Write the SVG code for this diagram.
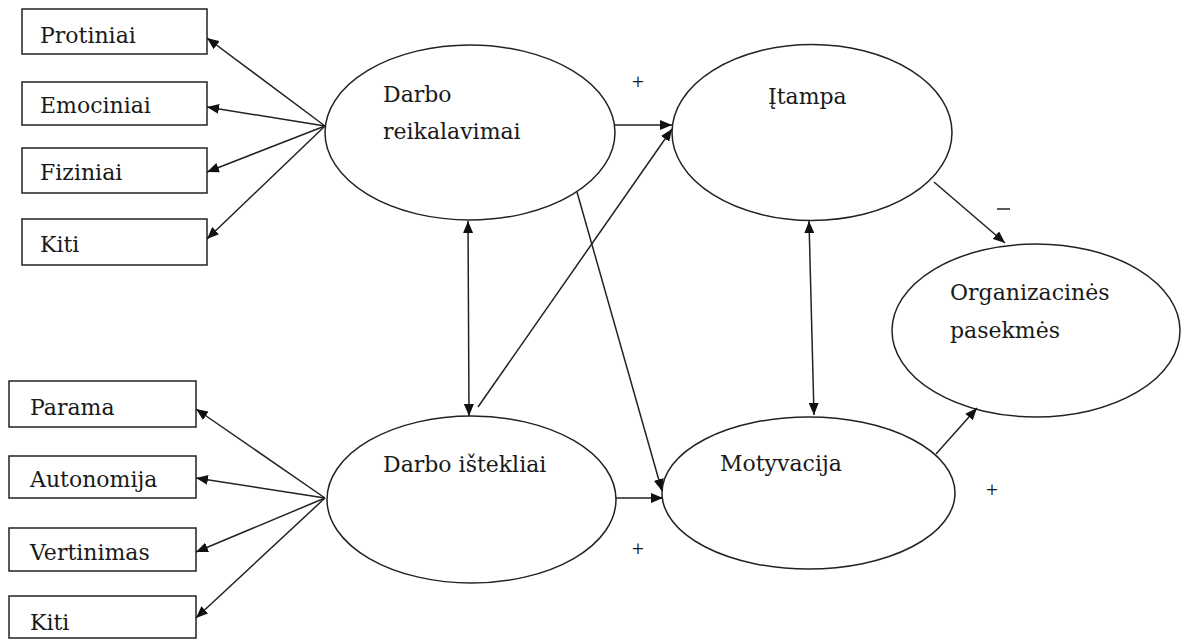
<svg xmlns="http://www.w3.org/2000/svg" width="1184" height="640" viewBox="0 0 1184 640">
<defs>
<style>
.box{fill:#fff;stroke:#222;stroke-width:1.5}
.ell{fill:#fff;stroke:#222;stroke-width:1.5}
.t{font-family:"DejaVu Serif","Liberation Serif",serif;font-size:22px;fill:#1a1a1a}
.s{font-family:"DejaVu Serif","Liberation Serif",serif;font-size:16px;fill:#1a1a1a}
.c{stroke:#222;stroke-width:1.5;fill:none}
</style>
<marker id="ah" viewBox="0 0 12 10" refX="12" refY="5" markerWidth="12" markerHeight="10" markerUnits="userSpaceOnUse" orient="auto-start-reverse">
<path d="M0,0 L12,5 L0,10 z" fill="#111"/>
</marker>
</defs>
<rect width="1184" height="640" fill="#fff"/>

<g id="protiniai"><rect class="box" x="22" y="9" width="185" height="45"/><text class="t" x="40" y="43">Protiniai</text></g>
<g id="emociniai"><rect class="box" x="22" y="82" width="185" height="43"/><text class="t" x="40" y="113">Emociniai</text></g>
<g id="fiziniai"><rect class="box" x="22" y="148" width="185" height="45"/><text class="t" x="40" y="180">Fiziniai</text></g>
<g id="kiti1"><rect class="box" x="22" y="219" width="185" height="46"/><text class="t" x="40" y="252">Kiti</text></g>

<g id="parama"><rect class="box" x="9" y="381" width="187" height="46"/><text class="t" x="30" y="415">Parama</text></g>
<g id="autonomija"><rect class="box" x="9" y="456" width="187" height="42"/><text class="t" x="30" y="487">Autonomija</text></g>
<g id="vertinimas"><rect class="box" x="9" y="528" width="187" height="43"/><text class="t" x="30" y="560">Vertinimas</text></g>
<g id="kiti2"><rect class="box" x="9" y="596" width="187" height="42"/><text class="t" x="30" y="630">Kiti</text></g>

<g id="darbo-reikalavimai"><ellipse class="ell" cx="470" cy="132.5" rx="145" ry="87.5"/><text class="t" x="383" y="102">Darbo</text><text class="t" x="383" y="139">reikalavimai</text></g>
<g id="darbo-istekliai"><ellipse class="ell" cx="471.5" cy="499.5" rx="144.5" ry="83.5"/><text class="t" x="383" y="472">Darbo ištekliai</text></g>
<g id="itampa"><ellipse class="ell" cx="812" cy="132.5" rx="140" ry="88"/><text class="t" x="768" y="104">Įtampa</text></g>
<g id="motyvacija"><ellipse class="ell" cx="808.5" cy="493" rx="146.5" ry="76"/><text class="t" x="720" y="471">Motyvacija</text></g>
<g id="organizacines"><ellipse class="ell" cx="1036" cy="330.5" rx="144" ry="86.5"/><text class="t" x="950" y="300">Organizacinės</text><text class="t" x="950" y="338">pasekmės</text></g>

<g id="connectors">
<line class="c" x1="325" y1="126" x2="207" y2="38" marker-end="url(#ah)"/>
<line class="c" x1="325" y1="126" x2="207" y2="107" marker-end="url(#ah)"/>
<line class="c" x1="325" y1="126" x2="207" y2="172" marker-end="url(#ah)"/>
<line class="c" x1="325" y1="126" x2="207" y2="239" marker-end="url(#ah)"/>

<line class="c" x1="325" y1="498" x2="196" y2="409" marker-end="url(#ah)"/>
<line class="c" x1="325" y1="498" x2="196" y2="478" marker-end="url(#ah)"/>
<line class="c" x1="325" y1="498" x2="196" y2="552" marker-end="url(#ah)"/>
<line class="c" x1="325" y1="498" x2="196" y2="618" marker-end="url(#ah)"/>

<line class="c" x1="615" y1="125" x2="672" y2="125" marker-end="url(#ah)"/>
<line class="c" x1="616" y1="498" x2="663" y2="498" marker-end="url(#ah)"/>
<line class="c" x1="468" y1="221" x2="469" y2="416" marker-start="url(#ah)" marker-end="url(#ah)"/>
<line class="c" x1="809" y1="221" x2="814" y2="415" marker-start="url(#ah)" marker-end="url(#ah)"/>
<line class="c" x1="478" y1="407" x2="672" y2="129" marker-end="url(#ah)"/>
<line class="c" x1="577" y1="192" x2="662" y2="491" marker-end="url(#ah)"/>
<line class="c" x1="934" y1="182" x2="1005" y2="243" marker-end="url(#ah)"/>
<line class="c" x1="936" y1="454" x2="977" y2="408" marker-end="url(#ah)"/>
</g>

<g id="labels">
<text class="s" x="638" y="87" text-anchor="middle">+</text>
<text class="s" x="638" y="554" text-anchor="middle">+</text>
<text class="s" x="992" y="495" text-anchor="middle">+</text>
<line x1="997" y1="209" x2="1010" y2="209" stroke="#222" stroke-width="1.5"/>
</g>
</svg>
